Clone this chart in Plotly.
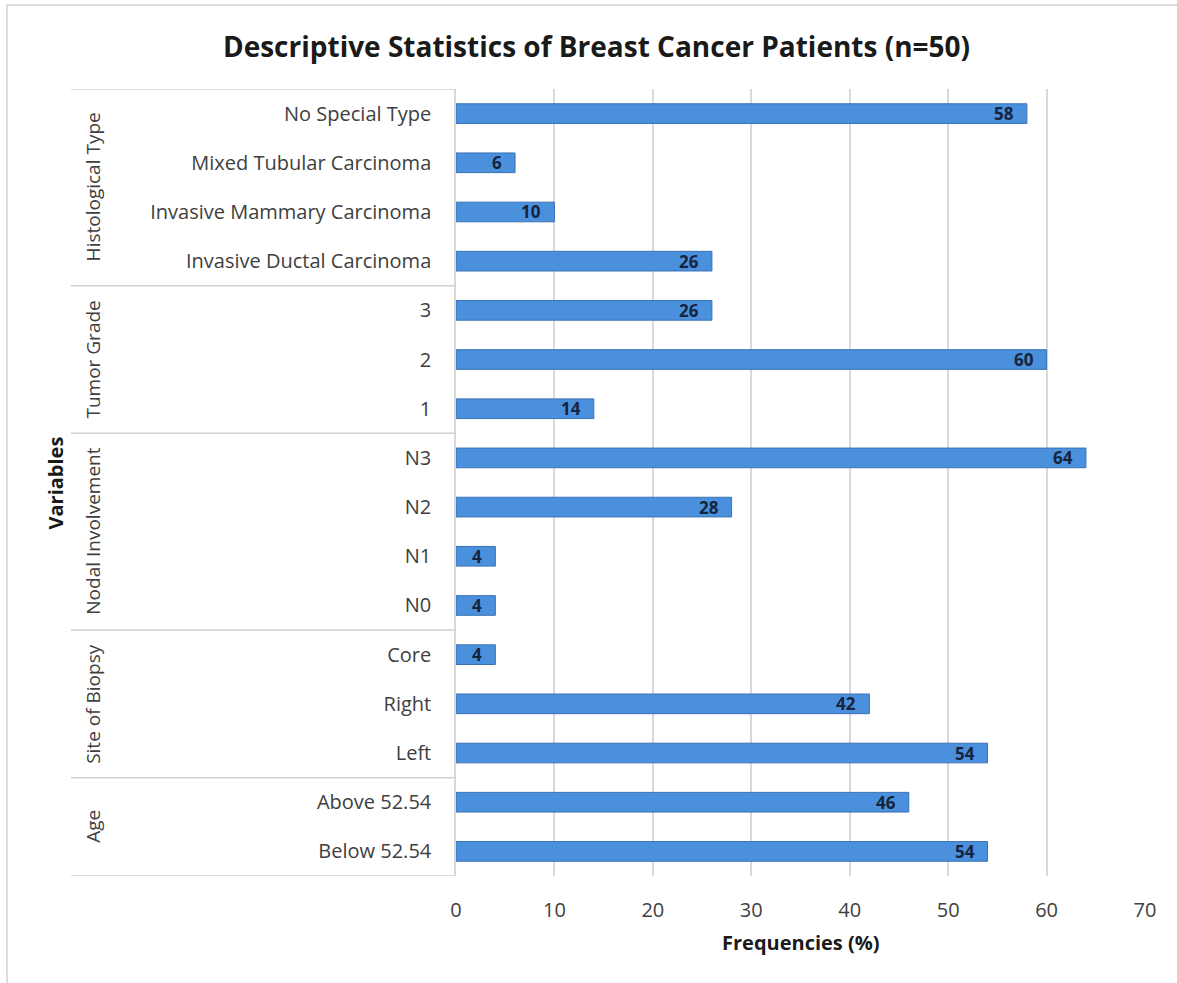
import plotly.graph_objects as go

# Categories listed bottom-to-top (Plotly draws the first category at the bottom)
categories = [
    "Below 52.54", "Above 52.54",
    "Left", "Right", "Core",
    "N0", "N1", "N2", "N3",
    "1", "2", "3",
    "Invasive Ductal Carcinoma", "Invasive Mammary Carcinoma",
    "Mixed Tubular Carcinoma", "No Special Type",
]
frequencies = [54, 46, 54, 42, 4, 4, 4, 28, 64, 14, 60, 26, 26, 10, 6, 58]

group_names = ["Age", "Site of Biopsy", "Nodal Involvement", "Tumor Grade", "Histological Type"]
group_sizes = [2, 3, 4, 3, 4]

x_ticks = [0, 10, 20, 30, 40, 50, 60, 70]

FONT = "Open Sans"
GRID = "#d9d9d9"
SEP = "#d0d0d0"

fig = go.Figure()

fig.add_trace(go.Bar(
    x=frequencies,
    y=categories,
    orientation="h",
    width=0.4,
    marker=dict(color="#4b90dc", line=dict(color="#3a72b5", width=1)),
    hoverinfo="x+y",
))

shapes = []
annotations = []

# Value labels sitting just inside the end of each bar
# (category positions given by index so numeric-looking names such as "3" stay unambiguous)
for idx, val in enumerate(frequencies):
    annotations.append(dict(
        text=f"<b>{val}</b>", x=val, y=idx, xref="x", yref="y",
        xanchor="right", yanchor="middle", xshift=-11, showarrow=False,
        font=dict(family=FONT, size=17, color="#17243d"),
    ))

# Group separators and rotated group labels in the category area
start = 0
bounds = [-0.5]
for name, size in zip(group_names, group_sizes):
    end = start + size
    bounds.append(end - 0.5)
    annotations.append(dict(
        text=name, textangle=-90,
        xref="paper", yref="y",
        x=(93 - 456) / 689, y=(start + end - 1) / 2,
        xanchor="center", yanchor="middle", showarrow=False,
        font=dict(family=FONT, size=19, color="#404040"),
    ))
    start = end

for b in bounds:
    shapes.append(dict(
        type="line", xref="paper", yref="y",
        x0=(71 - 456) / 689, x1=0, y0=b, y1=b,
        line=dict(color=SEP, width=1.5),
    ))

# Thin frame along the top and left edges of the figure
shapes.append(dict(type="line", xref="paper", yref="paper",
                   x0=(7 - 456) / 689, x1=1.1, y0=(876 - 5) / 787, y1=(876 - 5) / 787,
                   line=dict(color="#dcdcdc", width=2)))
shapes.append(dict(type="line", xref="paper", yref="paper",
                   x0=(7 - 456) / 689, x1=(7 - 456) / 689, y0=-0.2, y1=(876 - 5) / 787,
                   line=dict(color="#dcdcdc", width=2)))

annotations.append(dict(
    text="<b>Variables</b>", textangle=-90,
    xref="paper", yref="paper",
    x=(55 - 456) / 689, y=0.5,
    xanchor="center", yanchor="middle", showarrow=False,
    font=dict(family=FONT, size=20, color="#1a1a1a"),
))
annotations.append(dict(
    text="<b>Frequencies (%)</b>",
    xref="paper", yref="paper",
    x=0.5, y=(876 - 943) / 787,
    xanchor="center", yanchor="middle", showarrow=False,
    font=dict(family=FONT, size=20, color="#1a1a1a"),
))

fig.update_layout(
    width=1177, height=983,
    margin=dict(l=456, r=32, t=89, b=107),
    paper_bgcolor="white", plot_bgcolor="white",
    showlegend=False,
    title=dict(
        text="<b>Descriptive Statistics of Breast Cancer Patients (n=50)</b>",
        x=(218 + 975) / 2 / 1177, xanchor="center",
        y=1 - 47 / 983, yanchor="middle",
        font=dict(family=FONT, size=28, color="#1a1a1a"),
    ),
    xaxis=dict(
        range=[0, 70], tickvals=x_ticks, ticktext=[str(t) for t in x_ticks],
        showgrid=True, gridcolor=GRID, gridwidth=1.5, zeroline=False,
        showline=False, ticks="", ticklabelstandoff=20,
        tickfont=dict(family=FONT, size=20, color="#404040"),
        fixedrange=True,
    ),
    yaxis=dict(
        type="category", categoryorder="array", categoryarray=categories,
        range=[-0.5, len(categories) - 0.5],
        showgrid=False, showline=True, linecolor=GRID, linewidth=1.5,
        ticks="", ticklabelstandoff=19,
        tickfont=dict(family=FONT, size=20, color="#404040"),
        fixedrange=True,
    ),
    shapes=shapes,
    annotations=annotations,
)

fig.write_html("out.html")
